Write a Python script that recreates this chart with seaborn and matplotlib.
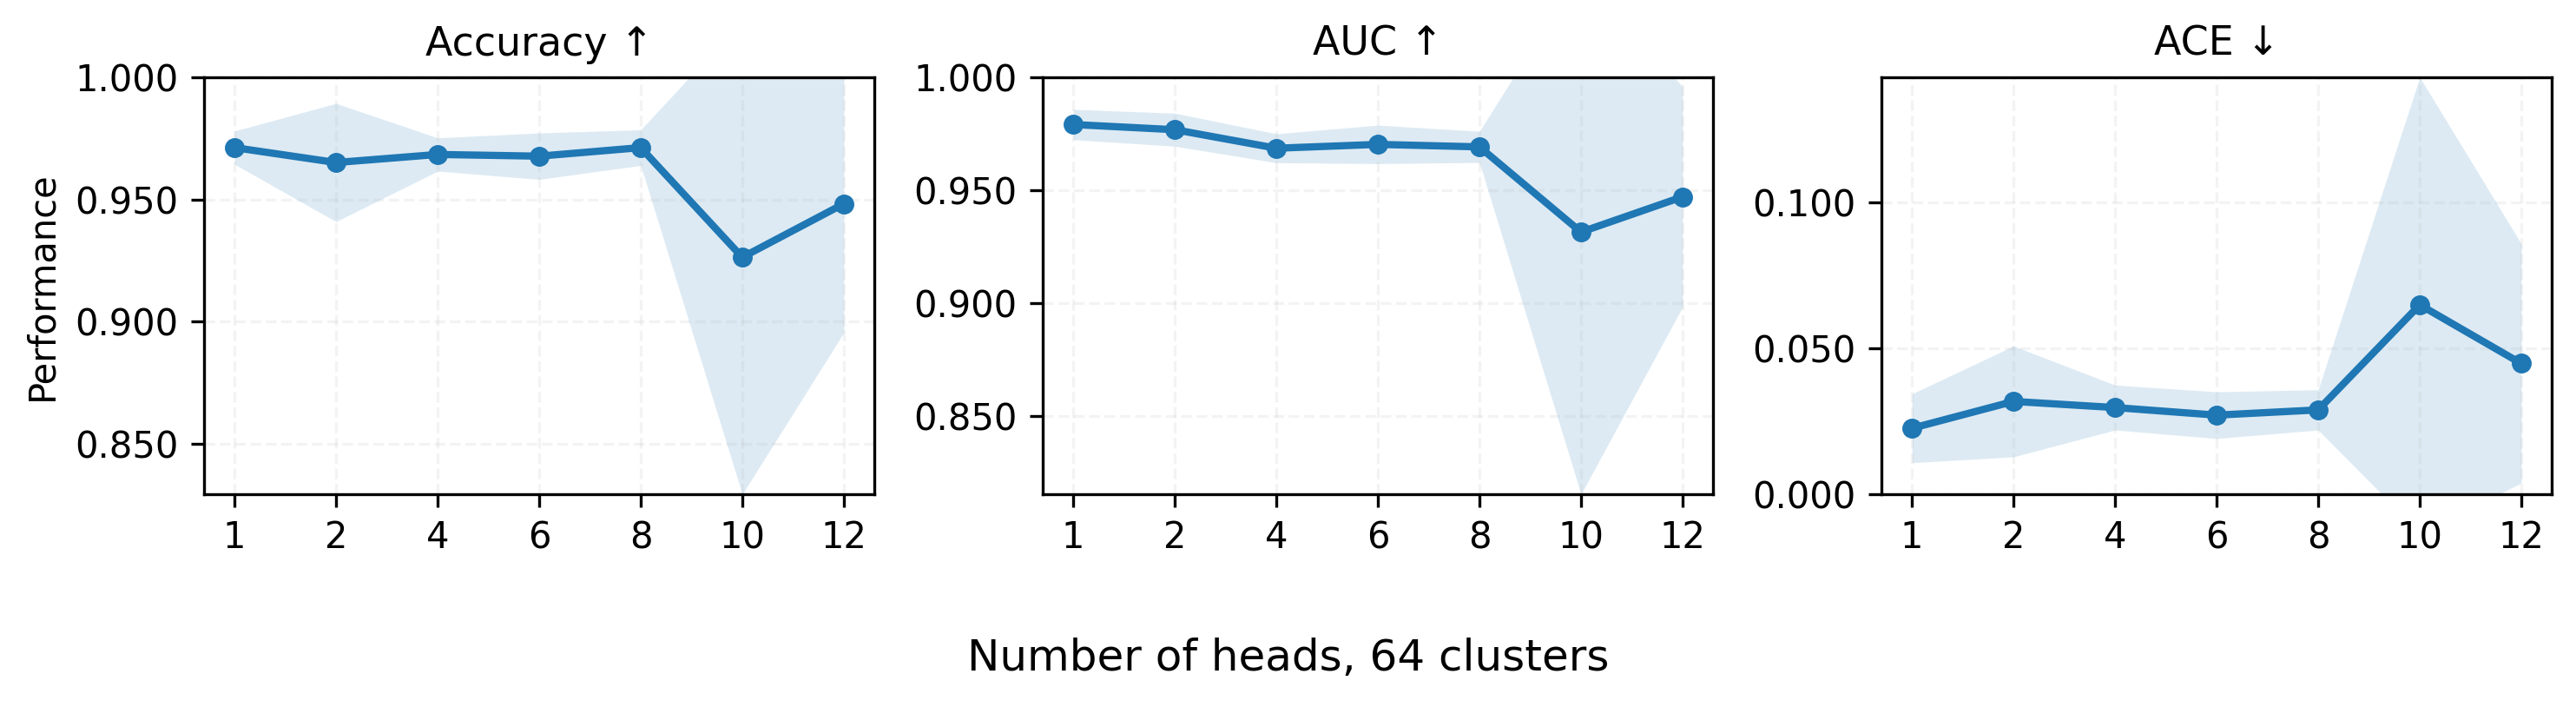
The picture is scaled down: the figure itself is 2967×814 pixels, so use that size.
import matplotlib
matplotlib.use("Agg")
import matplotlib.pyplot as plt
from matplotlib.ticker import MultipleLocator, FormatStrFormatter
import numpy as np
import pandas as pd
import seaborn as sns

# number of heads (categorical x axis)
heads = ['1', '2', '4', '6', '8', '10', '12']

# mean and std per metric
acc_mean = [0.9712, 0.9651, 0.9684, 0.9677, 0.9712, 0.9263, 0.9482]
acc_std = [0.0068, 0.0242, 0.0068, 0.0095, 0.0073, 0.0970, 0.0527]
auc_mean = [0.9791, 0.9768, 0.9686, 0.9703, 0.9692, 0.9315, 0.9471]
auc_std = [0.0067, 0.0073, 0.0064, 0.0085, 0.0069, 0.1160, 0.0487]
ace_mean = [0.0226, 0.0318, 0.0297, 0.0271, 0.0289, 0.0649, 0.0448]
ace_std = [0.0118, 0.0190, 0.0077, 0.0080, 0.0069, 0.0780, 0.0410]

titles = ['Accuracy \u2191', 'AUC \u2191', 'ACE \u2193']
means = [acc_mean, auc_mean, ace_mean]
stds = [acc_std, auc_std, ace_std]

color = '#1f77b4'

fig, axes = plt.subplots(1, 3, figsize=(2967 / 300, 814 / 300), dpi=300)
fig.subplots_adjust(left=0.0792, right=0.9906, top=0.8907, bottom=0.3010,
                    wspace=0.2513)

for ax, title, m, s in zip(axes, titles, means, stds):
    df = pd.DataFrame({'heads': heads, 'value': m, 'std': s})
    lo = df['value'] - df['std']
    hi = df['value'] + df['std']
    pos = np.arange(len(heads))

    ax.fill_between(pos, lo, hi, color=color, alpha=0.15, linewidth=0)
    sns.lineplot(data=df, x='heads', y='value', ax=ax, color=color,
                 marker='o', markersize=4.5, markeredgecolor=color,
                 markeredgewidth=1, linewidth=2)

    ax.set_ylim(max(0, lo.min()), min(1, hi.max()))
    ax.yaxis.set_major_locator(MultipleLocator(0.05))
    ax.yaxis.set_major_formatter(FormatStrFormatter('%.3f'))
    ax.set_title(title, fontsize=11)
    ax.set_xlabel('')
    ax.set_ylabel('')
    ax.tick_params(labelsize=10)
    ax.grid(True, linestyle='--', alpha=0.15)

axes[0].set_ylabel('Performance', fontsize=10)
fig.text(0.5, 0.069, 'Number of heads, 64 clusters', ha='center',
         va='center', fontsize=12)

fig.savefig('out.png', dpi=300)
